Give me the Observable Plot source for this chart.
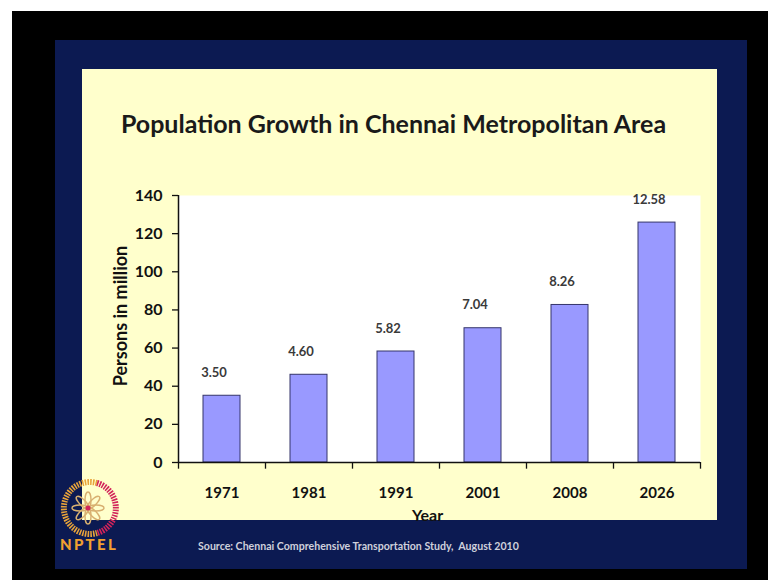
<!DOCTYPE html>
<html>
<head>
<meta charset="utf-8">
<script src="https://cdn.jsdelivr.net/npm/d3@7"></script>
<script src="https://cdn.jsdelivr.net/npm/@observablehq/plot@0.6"></script>
<style>
  html, body { margin: 0; padding: 0; background: #ffffff; width: 768px; height: 580px; overflow: hidden; }
  #black { position: absolute; left: 12px; top: 11px; width: 756px; height: 569px; background: #000; }
  #navy { position: absolute; left: 55px; top: 40px; width: 692px; height: 529px; background: #0c1a52; }
  #panel { position: absolute; left: 82px; top: 69px; width: 635px; height: 451px; background: #ffffcc; }
  #chart { position: absolute; left: 82px; top: 69px; }
  #title { position: absolute; left: 76px; top: 108px; width: 635px; text-align: center;
           font-family: Lato, sans-serif; font-weight: bold; font-size: 25px; color: #1a1a1a; white-space: nowrap; }
  #source { position: absolute; left: 198px; top: 540px; font-family: Lato, sans-serif; font-weight: bold;
            font-size: 10.6px; color: #cfd0dc; white-space: nowrap; }
  #nptel { position: absolute; left: 60px; top: 535px; font-family: Lato, sans-serif; font-weight: 900;
           font-size: 15px; letter-spacing: 2.3px; color: #f0a030; }
  #logo { position: absolute; left: 57px; top: 477px; }
</style>
</head>
<body>
<div id="black"></div>
<div id="navy"></div>
<div id="panel"></div>
<div id="title">Population Growth in Chennai Metropolitan Area</div>
<div id="chart"></div>
<svg id="logo" width="62" height="62" viewBox="0 0 62 62">
  <path d="M 40 6 A 26 26 0 1 0 40 56" fill="none" stroke="#e8a33a" stroke-width="6" stroke-dasharray="1.6 1.1"/>
  <path d="M 40 6 A 26 26 0 0 1 40 56" fill="none" stroke="#d2245a" stroke-width="6" stroke-dasharray="1.6 1.1"/>
  <g fill="none" stroke="#d8b070" stroke-width="1.4">
    <ellipse cx="31" cy="23" rx="3" ry="8"/>
    <ellipse cx="31" cy="23" rx="3" ry="8" transform="rotate(45 31 31)"/>
    <ellipse cx="31" cy="23" rx="3" ry="8" transform="rotate(90 31 31)"/>
    <ellipse cx="31" cy="23" rx="3" ry="8" transform="rotate(135 31 31)"/>
    <ellipse cx="31" cy="23" rx="3" ry="8" transform="rotate(180 31 31)"/>
    <ellipse cx="31" cy="23" rx="3" ry="8" transform="rotate(225 31 31)"/>
    <ellipse cx="31" cy="23" rx="3" ry="8" transform="rotate(270 31 31)"/>
    <ellipse cx="31" cy="23" rx="3" ry="8" transform="rotate(315 31 31)"/>
  </g>
  <circle cx="31" cy="31" r="2.5" fill="#d2245a"/>
</svg>
<div id="nptel">NPTEL</div>
<div id="source">Source: Chennai Comprehensive Transportation Study,&nbsp; August 2010</div>
<script>
const years = ["1971", "1981", "1991", "2001", "2008", "2026"];
const barHeights = [35.0, 46.0, 58.2, 70.4, 82.6, 125.8];
const valueLabels = ["3.50", "4.60", "5.82", "7.04", "8.26", "12.58"];
const yTicks = [0, 20, 40, 60, 80, 100, 120, 140];
const yLabel = "Persons in million";
const xLabel = "Year";

const data = years.map((y, i) => ({year: y, h: barHeights[i], label: valueLabels[i]}));

const plot = Plot.plot({
  width: 635,
  height: 451,
  marginTop: 126,
  marginBottom: 58,
  marginLeft: 96,
  marginRight: 17,
  style: {background: "transparent", fontFamily: "Lato, sans-serif", fontSize: "15px", fontWeight: "bold", color: "#111", overflow: "visible"},
  x: {domain: years, paddingInner: 0.575, paddingOuter: 0.2875, axis: null},
  y: {domain: [0, 140], axis: null},
  marks: [
    Plot.frame({fill: "white", stroke: null}),
    Plot.barY(data, {x: "year", y: "h", fill: "#9999ff", stroke: "#35356a", strokeWidth: 1}),
    Plot.axisY({ticks: yTicks, tickSize: 6, tickPadding: 10, label: null, fontSize: 16, fontWeight: "bold", stroke: "#111", strokeWidth: 1.3}),
    Plot.axisX({tickSize: 0, tickPadding: 25, label: null, fontSize: 15, fontWeight: "bold"}),
    Plot.ruleY([0], {stroke: "#111", strokeWidth: 1.5}),
    Plot.ruleX(["1971"], {dx: -43.5, y1: 0, y2: 140, stroke: "#111", strokeWidth: 1.5}),
    Plot.ruleX(years, {dx: -43.5, y1: 0, y2: -3.5, stroke: "#111", strokeWidth: 1.3}),
    Plot.ruleX(["2026"], {dx: 43.5, y1: 0, y2: -3.5, stroke: "#111", strokeWidth: 1.3}),
    Plot.text(data, {x: "year", y: "h", text: "label", dx: -8, dy: -23, lineAnchor: "middle", fontSize: 13, fontWeight: "bold", fill: "#3a3a3a"}),
    Plot.text([yLabel], {text: d => d, frameAnchor: "left", textAnchor: "middle", dx: -57, dy: -13, rotate: -90, lineAnchor: "middle", fontSize: 18, fontWeight: "bold", fill: "#111"}),
    Plot.text([xLabel], {text: d => d, frameAnchor: "bottom", textAnchor: "middle", dx: -12, dy: 53, lineAnchor: "middle", fontSize: 16, fontWeight: "bold", fill: "#111"})
  ]
});
document.getElementById("chart").appendChild(plot);
</script>
</body>
</html>
